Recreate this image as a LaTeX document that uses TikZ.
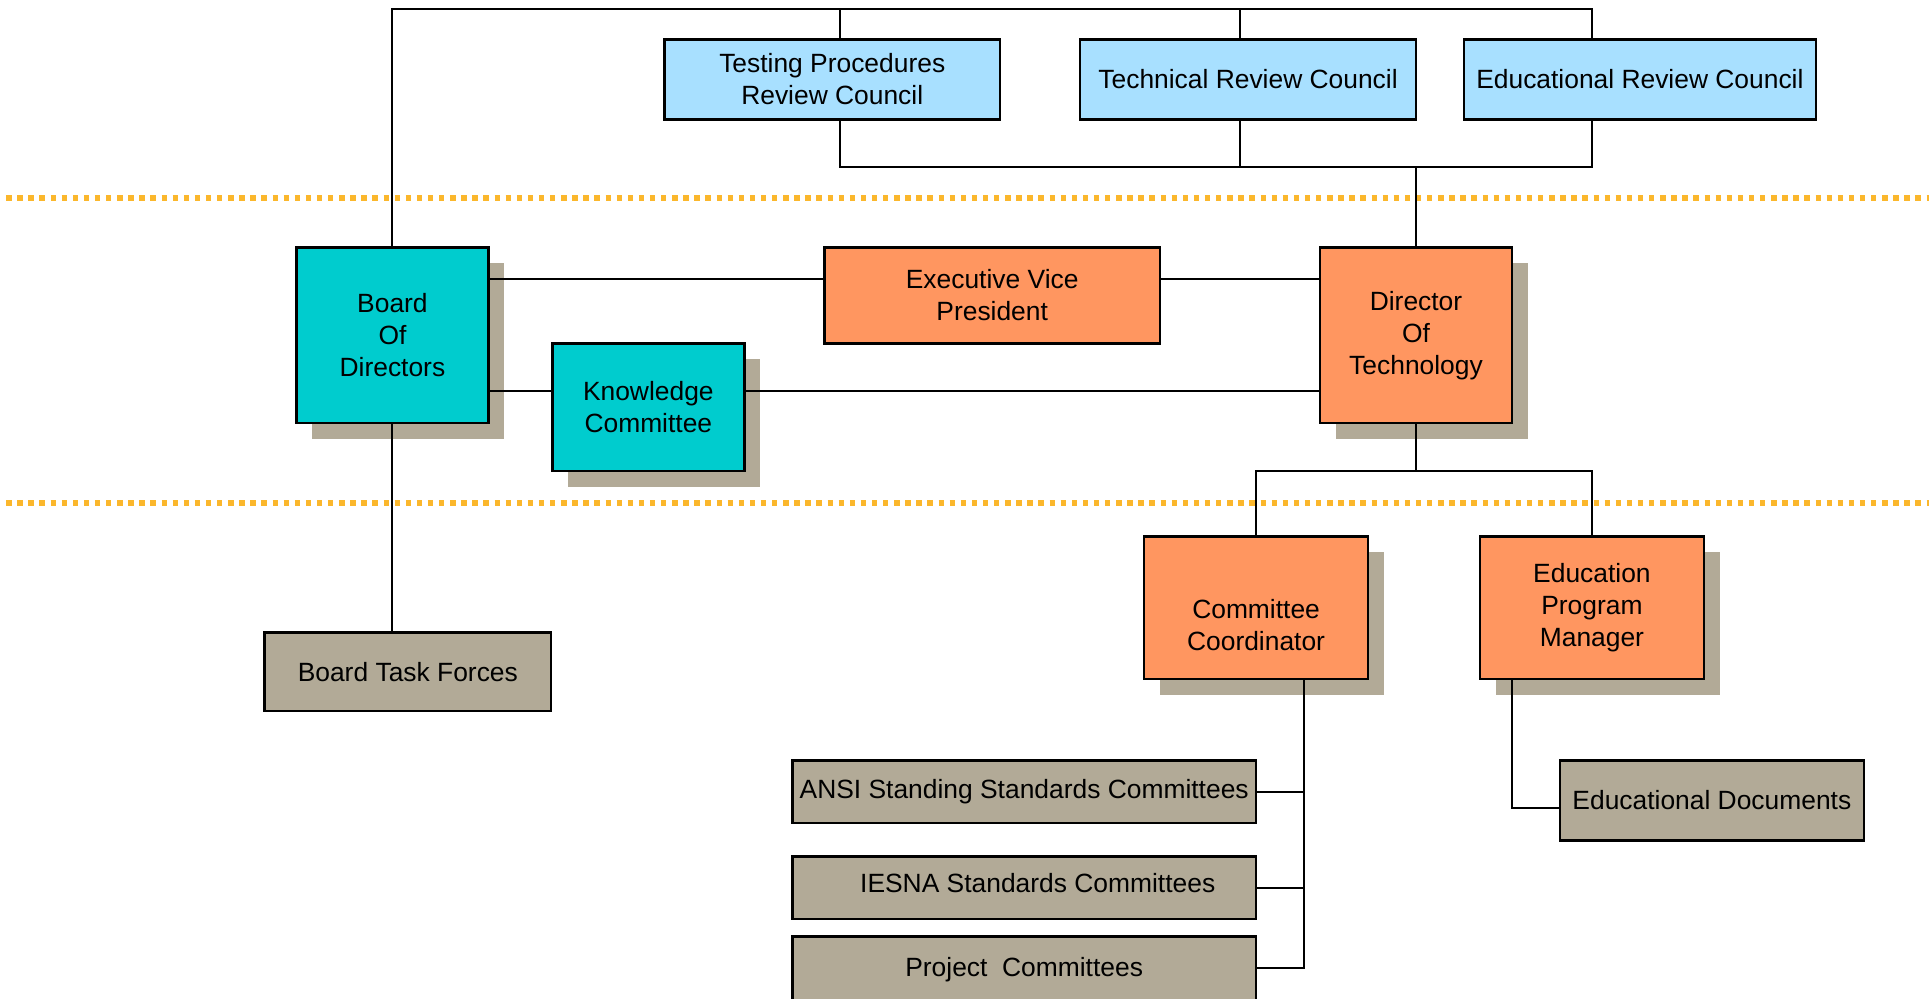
\documentclass[tikz,border=0pt]{standalone}
\usepackage{fontspec}
\setmainfont{Liberation Sans}
\usetikzlibrary{shadows}
\definecolor{cblue}{RGB}{168,224,255}
\definecolor{cteal}{RGB}{0,204,206}
\definecolor{corange}{RGB}{255,150,96}
\definecolor{cgray}{RGB}{178,170,151}
\definecolor{cdot}{RGB}{251,183,44}
\newcommand\boxfont{\fontsize{13.2}{16}\selectfont}
\def\U{0.6151pt}
\tikzset{
  box/.style={draw=black, line width=1.3pt, rectangle, inner sep=0pt, align=center, font=\boxfont},
  bluebox/.style={box, fill=cblue},
  tealbox/.style={box, fill=cteal},
  orangebox/.style={box, fill=corange},
  graybox/.style={box, fill=cgray},
  shad/.style={general shadow={fill=cgray, shadow xshift=8pt, shadow yshift=-8pt}},
  txt/.style={align=center, font=\boxfont, inner sep=0pt},
  conn/.style={draw=black, line width=1pt},
  dotline/.style={draw=cdot, line width=2.7pt, dash pattern=on 2.7pt off 2.85pt}
}
\begin{document}
\begin{tikzpicture}[x=0.6151pt, y=-0.6151pt]
\useasboundingbox (0,0) rectangle (1568,812);

% separators
\coordinate (s1l) at (5,161);
\coordinate (s1r) at (1568,161);
\coordinate (s2l) at (5,409);
\coordinate (s2r) at (1568,409);
\draw[dotline] (s1l) -- (s1r);
\draw[dotline] (s2l) -- (s2r);

% councils
\node[bluebox, minimum width=273*\U, minimum height=65*\U] (tprc) at (676.5,64.5) {Testing Procedures\\Review Council};
\node[bluebox, minimum width=273*\U, minimum height=65*\U] (trc) at (1014.5,64.5) {Technical Review Council};
\node[bluebox, minimum width=286*\U, minimum height=65*\U] (erc) at (1333,64.5) {Educational Review Council};

% middle row
\node[tealbox, shad, minimum width=156*\U, minimum height=143*\U] (bod) at (319,272.5) {Board\\Of\\Directors};
\node[orangebox, minimum width=273*\U, minimum height=78*\U] (evp) at (806.5,240) {Executive Vice\\President};
\node[orangebox, shad, minimum width=156*\U, minimum height=143*\U] (dot) at (1151,272.5) {Director\\Of\\Technology};
\node[tealbox, shad, minimum width=156*\U, minimum height=104*\U] (kc) at (527,331) {Knowledge\\Committee};

% lower row
\node[graybox, minimum width=233*\U, minimum height=64*\U] (btf) at (331.5,546) {Board Task Forces};
\node[orangebox, shad, minimum width=182*\U, minimum height=116*\U,
  label={[txt, yshift=-14*\U]center:{Committee\\Coordinator}}] (cc) at (1021,494) {};
\node[orangebox, shad, minimum width=182*\U, minimum height=116*\U] (epm) at (1294,494) {Education\\Program\\Manager};

\node[graybox, minimum width=377*\U, minimum height=51*\U] (ansi) at (832.5,643.5) {ANSI Standing Standards Committees};
\node[graybox, minimum width=377*\U, minimum height=51*\U,
  label={[txt, xshift=11*\U, yshift=4*\U]center:{IESNA Standards Committees}}] (iesna) at (832.5,721.5) {};
\node[graybox, minimum width=377*\U, minimum height=60*\U,
  label={[txt, yshift=3*\U]center:{Project\ \ Committees}}] (pc) at (832.5,791) {};
\node[graybox, minimum width=247*\U, minimum height=65*\U] (ed) at (1391.5,650.5) {Educational Documents};

% top frame
\coordinate (t1) at (683,7);
\coordinate (t2) at (1008,7);
\coordinate (t3) at (1294,7);
\draw[conn] (bod.north) |- (t3) -- (t3 |- erc.north);
\draw[conn] (t1) -- (t1 |- tprc.north);
\draw[conn] (t2) -- (t2 |- trc.north);

% council bus
\coordinate (b1) at (683,136);
\coordinate (b2) at (1008,136);
\coordinate (b3) at (1294,136);
\draw[conn] (b1 |- tprc.south) -- (b1) -- (b3) -- (b3 |- erc.south);
\draw[conn] (b2 |- trc.south) -- (b2);
\draw[conn] (dot.north) -- (dot.north |- b1);

% middle links
\coordinate (y1) at (0,227);
\coordinate (y2) at (0,318);
\draw[conn] (bod.east |- y1) -- (evp.west |- y1);
\draw[conn] (evp.east |- y1) -- (dot.west |- y1);
\draw[conn] (bod.east |- y2) -- (kc.west |- y2);
\draw[conn] (kc.east |- y2) -- (dot.west |- y2);

% board task forces
\draw[conn] (bod.south) -- (btf.north -| bod.south);

% director to managers
\coordinate (d1) at (1151,383);
\draw[conn] (dot.south) -- (d1);
\draw[conn] (cc.north) |- (d1) -| (epm.north);

% committee coordinator branches
\coordinate (v1) at (1060,787);
\draw[conn] (cc.south -| v1) -- (v1) -- (pc.east |- v1);
\draw[conn] (ansi.east) -- (ansi.east -| v1);
\draw[conn] (iesna.east) -- (iesna.east -| v1);

% education program manager
\coordinate (e1) at (1229,657);
\draw[conn] (epm.south -| e1) -- (e1) -- (ed.west |- e1);
\end{tikzpicture}
\end{document}
